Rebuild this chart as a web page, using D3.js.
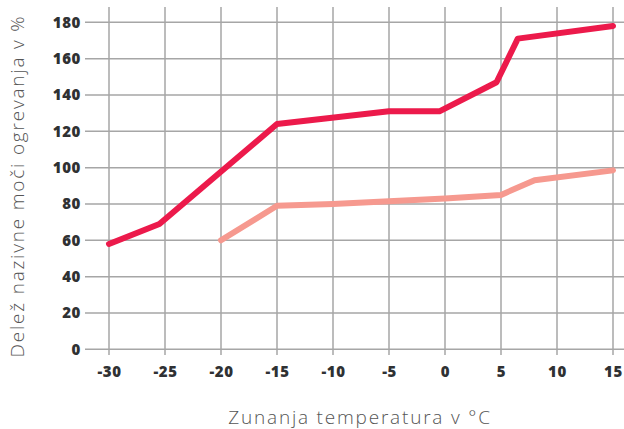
<!DOCTYPE html>
<html>
<head>
<meta charset="utf-8">
<script src="https://cdn.jsdelivr.net/npm/d3@7"></script>
<style>
  body { margin: 0; background: #fff; }
  .tick text { font-family: "Open Sans", sans-serif; font-weight: 800; font-size: 15px; letter-spacing: 0.6px; fill: #2f3133; }
  .grid line { stroke: #a6a6a6; stroke-width: 1.5; }
  .title { font-family: "Open Sans", sans-serif; font-weight: 300; fill: #555; letter-spacing: 1.8px; }
</style>
</head>
<body>
<svg id="chart" width="624" height="429"></svg>
<script>
// Tick values
var xTicks = [-30, -25, -20, -15, -10, -5, 0, 5, 10, 15];
var yTicks = [0, 20, 40, 60, 80, 100, 120, 140, 160, 180];

// Series: temperature (x) and share of nominal heating power (y)
var s1Temp  = [-30, -25.5, -15, -5, -0.5, 4.6, 6.5, 15];
var s1Value = [58, 69, 124, 131, 131, 147, 171, 178];

var s2Temp  = [-20, -15, -10, -5, 0, 5, 8, 15];
var s2Value = [60, 79, 80, 81.5, 83, 85, 93, 98.5];

var xTitle = "Zunanja temperatura v °C";
var yTitle = "Delež nazivne moči ogrevanja v %";

var svg = d3.select("#chart");

// Scales
var x = d3.scaleLinear().domain([-30, 15]).range([109, 613]);
var y = d3.scaleLinear().domain([0, 180]).range([349.3, 22.3]);

// Vertical grid lines
svg.append("g")
    .attr("class", "grid")
  .selectAll("line")
  .data(xTicks)
  .enter().append("line")
    .attr("x1", d => x(d))
    .attr("x2", d => x(d))
    .attr("y1", 7)
    .attr("y2", 355);

// Horizontal grid lines
svg.append("g")
    .attr("class", "grid")
  .selectAll("line")
  .data(yTicks)
  .enter().append("line")
    .attr("x1", 85)
    .attr("x2", 624)
    .attr("y1", d => y(d))
    .attr("y2", d => y(d));

// Axes (labels only), plain hyphen for negatives
var xAxis = d3.axisBottom(x).tickValues(xTicks).tickSize(0).tickPadding(0)
    .tickFormat(d => String(d));
var yAxis = d3.axisLeft(y).tickValues(yTicks).tickSize(0).tickPadding(0)
    .tickFormat(d => String(d));

var gx = svg.append("g")
    .attr("transform", "translate(0,366)")
    .call(xAxis);
gx.select(".domain").remove();
gx.selectAll("text").attr("dy", "0.71em");

var gy = svg.append("g")
    .attr("transform", "translate(81,0)")
    .call(yAxis);
gy.select(".domain").remove();

// Lines
var line = d3.line()
    .x(d => x(d[0]))
    .y(d => y(d[1]));

svg.append("path")
    .datum(d3.zip(s2Temp, s2Value))
    .attr("fill", "none")
    .attr("stroke", "#f6998f")
    .attr("stroke-width", 6)
    .attr("stroke-linecap", "round")
    .attr("stroke-linejoin", "round")
    .attr("d", line);

svg.append("path")
    .datum(d3.zip(s1Temp, s1Value))
    .attr("fill", "none")
    .attr("stroke", "#ec1a4b")
    .attr("stroke-width", 6)
    .attr("stroke-linecap", "round")
    .attr("stroke-linejoin", "round")
    .attr("d", line);

// Axis titles
svg.append("text")
    .attr("class", "title")
    .attr("x", 360)
    .attr("y", 424)
    .attr("text-anchor", "middle")
    .attr("font-size", 19)
    .text(xTitle);

svg.append("text")
    .attr("class", "title")
    .attr("transform", "translate(24,186) rotate(-90)")
    .attr("text-anchor", "middle")
    .attr("font-size", 19)
    .text(yTitle);
</script>
</body>
</html>
